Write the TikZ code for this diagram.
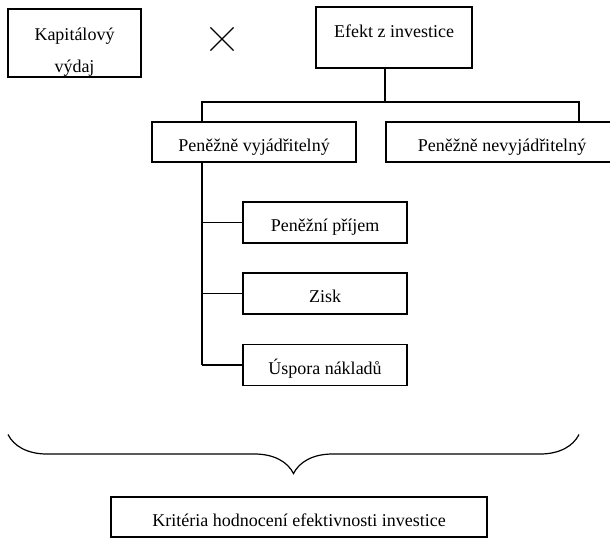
\documentclass[tikz,border=0pt]{standalone}
\usepackage{fontspec}
\setmainfont{Liberation Serif}
\usetikzlibrary{shapes.misc,decorations.pathreplacing}

\begin{document}
\begin{tikzpicture}[x=0.5pt, y=-0.5pt, line width=0.6pt,
    every node/.style={font=\fontsize{9}{11}\selectfont, inner sep=0pt},
    box/.style={draw, rectangle, minimum height=20pt, text height=12pt, text depth=3pt}]
    \useasboundingbox (0,0) rectangle (610,538);
    % horni radek
    \node[draw, minimum width=66.5pt, minimum height=34pt, align=center] (kap) at (74.5,43)
        {\rule{0pt}{15pt}Kapitálový\\[5pt]výdaj};
    \node[draw, cross out, minimum size=11pt] (krat) at (222,39) {};
    \node[box, minimum width=78pt, minimum height=30.5pt, text height=6pt, text depth=6pt] (efekt) at (394,37.5) {Efekt z investice};
    % druhy radek
    \node[box, minimum width=102pt] (pv) at (254,142) {Peněžně vyjádřitelný};
    \node[box, minimum width=116pt] (pn) at (502,142) {Peněžně nevyjádřitelný};
    % slozky
    \node[box, minimum width=82pt, minimum height=20.5pt] (pp) at (325,222.5) {Peněžní příjem};
    \node[box, minimum width=82pt, minimum height=20.5pt] (zisk) at (325,293.5) {Zisk};
    \node[box, minimum width=82pt, minimum height=20.5pt] (uspora) at (325,365) {Úspora nákladů};
    \node[box, minimum width=188pt] (krit) at (299,517) {Kritéria hodnocení efektivnosti investice};
    % spojnice
    \coordinate (rozcesti) at (385,102);
    \coordinate (levy) at (202,102);
    \coordinate (pravy) at (579,102);
    \draw (efekt.south -| rozcesti) -- (rozcesti);
    \draw (levy |- pv.north) -- (levy) -- (pravy) -- (pravy |- pn.north);
    \draw (levy |- pv.south) -- (levy |- uspora.west);
    \foreach \n in {pp,zisk,uspora}
        \draw (levy |- \n.west) -- (\n.west);
    % slozena zavorka
    \draw[decorate, decoration={brace, amplitude=19.5pt}] (579,434.5) -- (8,434.5);
\end{tikzpicture}
\end{document}
